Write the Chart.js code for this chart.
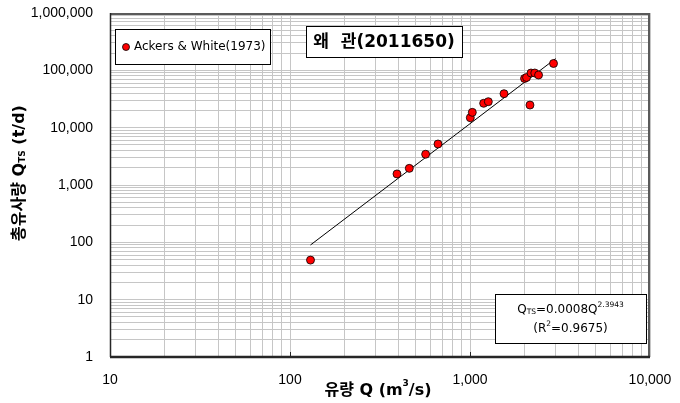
<!DOCTYPE html>
<html>
<head>
<meta charset="utf-8">
<script src="https://cdn.jsdelivr.net/npm/chart.js@4.4.1/dist/chart.umd.min.js"></script>
<style>
  html, body { margin: 0; padding: 0; background: #fff; }
  #wrap { width: 680px; height: 403px; }
</style>
</head>
<body>
<div id="wrap"><canvas id="chart" width="680" height="403"></canvas></div>
<script>
// observed discharge Q (m3/s) and total sediment load QTS (t/d)
var flowQ = [130, 393, 460, 567, 664, 1004, 1030, 1191, 1264, 1545, 2009, 2061, 2154, 2183, 2290, 2403, 2911];
var loadQts = [49, 1560, 1950, 3440, 5190, 14900, 18500, 26600, 28400, 39100, 72000, 75000, 24800, 89800, 89800, 82900, 131600];

// fitted line end points
var trendQ = [130, 2990];
var trendQts = [90, 160000];

var seriesLabel = 'Ackers & White(1973)';
var titleText = '왜  관(2011650)';
var xDecades = [10, 100, 1000, 10000];
var yDecades = [1, 10, 100, 1000, 10000, 100000, 1000000];

var FONT = "'Liberation Sans', 'Noto Sans CJK KR', Arial, sans-serif";
var WIDE = "'DejaVu Sans', 'Noto Sans CJK KR', sans-serif";

function toPoints(xs, ys) {
    var pts = [];
    for (var i = 0; i < xs.length; i++) pts.push({x: xs[i], y: ys[i]});
    return pts;
}

// 1..9 for every decade, used for the log grid
function logTicks(decades) {
    var ticks = [];
    for (var i = 0; i < decades.length; i++) {
        if (i === decades.length - 1) { ticks.push({value: decades[i]}); break; }
        for (var m = 1; m < 10; m++) ticks.push({value: m * decades[i]});
    }
    return ticks;
}

function isDecade(v) {
    var l = Math.log10(v);
    return Math.abs(l - Math.round(l)) < 1e-9;
}

// draws a row of text pieces (normal, sub, sup) centred on cx
function drawRich(ctx, parts, cx, cy) {
    var total = 0;
    parts.forEach(function(p) {
        ctx.font = p.font;
        p.w = ctx.measureText(p.t).width;
        total += p.w;
    });
    var x = cx - total / 2;
    ctx.textAlign = 'left';
    ctx.textBaseline = 'middle';
    parts.forEach(function(p) {
        ctx.font = p.font;
        ctx.fillText(p.t, x, cy + (p.dy || 0));
        x += p.w;
    });
}

// the tick labels must not push the plot area around
function noPadding(scale) {
    scale.paddingTop = 0;
    scale.paddingBottom = 0;
    scale.paddingLeft = 0;
    scale.paddingRight = 0;
}

var decorations = {
    id: 'decorations',
    beforeDatasetsDraw: function(chart) {
        var ctx = chart.ctx, a = chart.chartArea;
        var xs = chart.scales.x;
        ctx.save();
        // frame
        ctx.lineWidth = 2;
        ctx.strokeStyle = '#5a5a5a';
        ctx.beginPath();
        ctx.moveTo(a.left, a.top + 1);
        ctx.lineTo(a.right - 1, a.top + 1);
        ctx.lineTo(a.right - 1, a.bottom);
        ctx.stroke();
        ctx.strokeStyle = '#262626';
        ctx.lineWidth = 1.5;
        ctx.beginPath();
        ctx.moveTo(a.left + 0.5, a.top);
        ctx.lineTo(a.left + 0.5, a.bottom);
        ctx.stroke();
        ctx.lineWidth = 2.5;
        ctx.beginPath();
        ctx.moveTo(a.left, a.bottom);
        ctx.lineTo(a.right, a.bottom);
        ctx.stroke();
        // small inside ticks on the x axis
        ctx.lineWidth = 1;
        xDecades.slice(1, -1).forEach(function(v) {
            var px = Math.round(xs.getPixelForValue(v)) + 0.5;
            ctx.beginPath();
            ctx.moveTo(px, a.bottom);
            ctx.lineTo(px, a.bottom - 5);
            ctx.stroke();
        });
        ctx.restore();
    },
    afterDatasetsDraw: function(chart) {
        var ctx = chart.ctx;
        ctx.save();
        ctx.fillStyle = '#000';
        ctx.strokeStyle = '#000';
        ctx.lineWidth = 1;

        // legend box
        var lx = 115, ly = 29, lw = 155, lh = 35;
        ctx.fillStyle = '#fff';
        ctx.fillRect(lx, ly, lw, lh);
        ctx.strokeRect(lx + 0.5, ly + 0.5, lw, lh);
        ctx.beginPath();
        ctx.arc(lx + 11, ly + 18, 3.5, 0, Math.PI * 2);
        ctx.fillStyle = '#ff0000';
        ctx.fill();
        ctx.lineWidth = 0.8;
        ctx.stroke();
        ctx.fillStyle = '#000';
        ctx.font = '12px ' + WIDE;
        ctx.textAlign = 'left';
        ctx.textBaseline = 'middle';
        ctx.fillText(chart.data.datasets[0].label, lx + 19, ly + 18);

        // title box
        var tx = 306, ty = 26, tw = 156, th = 31;
        ctx.lineWidth = 1;
        ctx.fillStyle = '#fff';
        ctx.fillRect(tx, ty, tw, th);
        ctx.strokeRect(tx + 0.5, ty + 0.5, tw, th);
        ctx.fillStyle = '#000';
        drawRich(ctx, [{t: titleText, font: 'bold 17px ' + WIDE}], tx + tw / 2, ty + th / 2 + 1);

        // equation box
        var ex = 495, ey = 294, ew = 151, eh = 49;
        ctx.fillStyle = '#fff';
        ctx.fillRect(ex, ey, ew, eh);
        ctx.strokeRect(ex + 0.5, ey + 0.5, ew, eh);
        ctx.fillStyle = '#000';
        var f = '12px ' + WIDE, fs = '7.5px ' + WIDE;
        drawRich(ctx, [
            {t: 'Q', font: f},
            {t: 'TS', font: fs, dy: 2},
            {t: '=0.0008Q', font: f},
            {t: '2.3943', font: fs, dy: -5}
        ], ex + ew / 2, ey + 16);
        drawRich(ctx, [
            {t: '(R', font: f},
            {t: '2', font: fs, dy: -5},
            {t: '=0.9675)', font: f}
        ], ex + ew / 2, ey + 35);

        // axis titles
        var bf = 'bold 16px ' + WIDE, bs = 'bold 9px ' + WIDE;
        drawRich(ctx, [
            {t: '유량 Q (m', font: bf},
            {t: '3', font: bs, dy: -7},
            {t: '/s)', font: bf}
        ], 378, 391);
        ctx.translate(20, 173);
        ctx.rotate(-Math.PI / 2);
        drawRich(ctx, [
            {t: '총유사량 Q', font: bf},
            {t: 'TS', font: bs, dy: 3},
            {t: ' (t/d)', font: bf}
        ], 0, 0);
        ctx.restore();
    }
};

var gridStyle = {color: '#c6c6c6', lineWidth: 1, drawTicks: false};

new Chart(document.getElementById('chart').getContext('2d'), {
    type: 'scatter',
    data: {
        datasets: [{
            label: seriesLabel,
            data: toPoints(flowQ, loadQts),
            backgroundColor: '#ff0000',
            borderColor: '#000000',
            borderWidth: 0.8,
            pointRadius: 4,
            pointHoverRadius: 4
        }, {
            label: 'trend',
            type: 'line',
            data: toPoints(trendQ, trendQts),
            borderColor: '#000000',
            borderWidth: 1,
            pointRadius: 0,
            fill: false
        }]
    },
    options: {
        responsive: false,
        animation: false,
        layout: {padding: {top: 13, right: 30, left: 0, bottom: 0}},
        plugins: {
            legend: {display: false},
            tooltip: {enabled: false}
        },
        scales: {
            x: {
                type: 'logarithmic',
                min: xDecades[0],
                max: xDecades[xDecades.length - 1],
                afterBuildTicks: function(scale) { scale.ticks = logTicks(xDecades); },
                afterFit: function(scale) { scale.height = 46; noPadding(scale); },
                grid: gridStyle,
                border: {display: false},
                ticks: {
                    autoSkip: false,
                    maxRotation: 0,
                    padding: 15,
                    color: '#000',
                    font: {family: FONT, size: 14},
                    callback: function(v) { return isDecade(v) ? v.toLocaleString('en-US') : ''; }
                }
            },
            y: {
                type: 'logarithmic',
                min: yDecades[0],
                max: yDecades[yDecades.length - 1],
                afterBuildTicks: function(scale) { scale.ticks = logTicks(yDecades); },
                afterFit: function(scale) { scale.width = 110; noPadding(scale); },
                grid: gridStyle,
                border: {display: false},
                ticks: {
                    autoSkip: false,
                    padding: 17,
                    color: '#000',
                    font: {family: FONT, size: 14},
                    callback: function(v) { return isDecade(v) ? v.toLocaleString('en-US') : ''; }
                }
            }
        }
    },
    plugins: [decorations]
});
</script>
</body>
</html>
